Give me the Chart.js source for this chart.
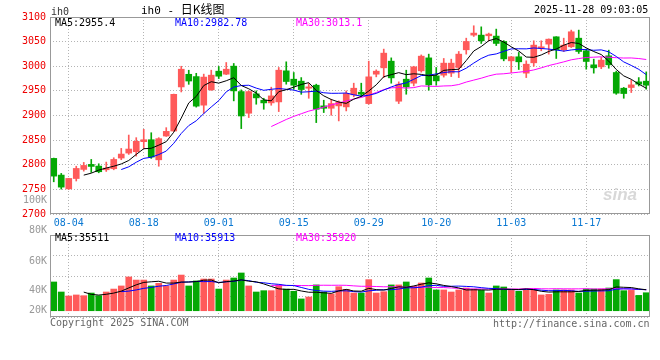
<!DOCTYPE html>
<html>
<head>
<meta charset="utf-8">
<script src="https://cdn.jsdelivr.net/npm/chart.js@4/dist/chart.umd.min.js"></script>
<style>
body { margin: 0; background: #fff; }
#wrap { position: relative; width: 660px; height: 360px; overflow: hidden; font-family: "DejaVu Sans Mono", monospace; font-size: 10px; }
#wrap canvas { position: absolute; left: 0; }
.t { position: absolute; line-height: 12px; white-space: nowrap; }
.r { text-align: right; width: 40px; }
</style>
</head>
<body>
<div id="wrap">
  <canvas id="kChart" width="660" height="232" style="top:0"></canvas>
  <canvas id="vChart" width="660" height="90" style="top:228px"></canvas>

  <div class="t" style="left:51px;top:6px;color:#333">ih0</div>
  <div class="t" style="left:141px;top:3px;color:#000;font-size:11px;">ih0 - <span style="font-family:'Noto Sans CJK SC';font-size:12px;">日K线图</span></div>
  <div class="t" style="left:534px;top:4px;color:#000">2025-11-28 09:03:05</div>

  <div class="t" style="left:55px;top:17px;color:#000">MA5:2955.4</div>
  <div class="t" style="left:175px;top:17px;color:#0000ff">MA10:2982.78</div>
  <div class="t" style="left:296px;top:17px;color:#ff00ff">MA30:3013.1</div>

  <div class="t" style="left:55px;top:232px;color:#000">MA5:35511</div>
  <div class="t" style="left:175px;top:232px;color:#0000ff">MA10:35913</div>
  <div class="t" style="left:296px;top:232px;color:#ff00ff">MA30:35920</div>

  <div class="t r" style="left:7px;top:194px;color:#999">100K</div>
  <div class="t r" style="left:7px;top:224px;color:#999">80K</div>
  <div class="t r" style="left:7px;top:255px;color:#999">60K</div>
  <div class="t r" style="left:7px;top:284px;color:#999">40K</div>
  <div class="t r" style="left:7px;top:304px;color:#999">20K</div>

  <div class="t" style="left:603px;top:186px;color:#d8d8d8;font-family:'Liberation Sans';font-style:italic;font-weight:bold;font-size:17px;line-height:18px;">sina</div>

  <div class="t" style="left:50px;top:317px;color:#666">Copyright 2025 SINA.COM</div>
  <div class="t" style="left:493px;top:318px;color:#666">http://finance.sina.com.cn</div>
</div>

<script>
Chart.defaults.font.family = "'DejaVu Sans Mono', monospace";
Chart.defaults.font.size = 10;

// trading days shown on the chart
let dates = [
  '07-31', '08-01',
  '08-04', '08-05', '08-06', '08-07', '08-08',
  '08-11', '08-12', '08-13', '08-14', '08-15',
  '08-18', '08-19', '08-20', '08-21', '08-22',
  '08-25', '08-26', '08-27', '08-28', '08-29',
  '09-01', '09-02', '09-03', '09-04', '09-05',
  '09-08', '09-09', '09-10', '09-11', '09-12',
  '09-15', '09-16', '09-17', '09-18', '09-19',
  '09-22', '09-23', '09-24', '09-25', '09-26',
  '09-29', '09-30', '10-09', '10-10',
  '10-13', '10-14', '10-15', '10-16', '10-17',
  '10-20', '10-21', '10-22', '10-23', '10-24',
  '10-27', '10-28', '10-29', '10-30', '10-31',
  '11-03', '11-04', '11-05', '11-06', '11-07',
  '11-10', '11-11', '11-12', '11-13', '11-14',
  '11-17', '11-18', '11-19', '11-20', '11-21',
  '11-24', '11-25', '11-26', '11-27'
];
let tickDates = ['08-04', '08-18', '09-01', '09-15', '09-29', '10-20', '11-03', '11-17'];

let opens = [
  2812.9, 2779.0, 2751.0, 2772.0, 2790.5, 2800.7, 2797.3, 2789.8, 2791.9, 2813.6,
  2823.7, 2826.4, 2846.8, 2850.8, 2810.0, 2858.3, 2868.5, 2958.0, 2983.7, 2979.0,
  2921.0, 2952.0, 2990.0, 2983.9, 3000.2, 2948.6, 2904.6, 2944.0, 2931.0, 2925.6,
  2927.6, 2990.7, 2973.7, 2969.7, 2955.4, 2961.5, 2919.5, 2914.7, 2919.5, 2917.5,
  2941.9, 2947.3, 2924.2, 2983.9, 2996.8, 3010.3, 2929.0, 2973.7, 2965.6, 2990.7,
  3017.0, 2980.5, 2981.9, 2986.0, 2997.5, 3033.4, 3063.2, 3063.2, 3061.9, 3061.2,
  3050.3, 3011.0, 3019.2, 2986.0, 3007.0, 3036.8, 3044.9, 3059.8, 3033.4, 3039.5,
  3057.0, 3031.4, 3002.9, 2998.8, 3021.2, 2987.3, 2955.4, 2956.8, 2968.3, 2969.7
];
let highs = [
  2813.5, 2782.4, 2772.5, 2797.0, 2804.7, 2810.8, 2802.0, 2805.4, 2814.2, 2833.2,
  2860.3, 2855.0, 2871.9, 2865.0, 2855.0, 2875.3, 2943.5, 3000.0, 2991.9, 2985.7,
  2984.0, 2992.0, 2999.5, 3007.6, 3005.6, 2952.0, 2950.0, 2950.0, 2935.0, 2957.5,
  2997.5, 3009.0, 2987.3, 2977.0, 2965.0, 2963.6, 2931.0, 2933.0, 2929.7, 2950.0,
  2965.6, 2965.6, 3010.3, 2992.7, 3034.8, 3017.0, 2968.3, 2992.0, 3000.0, 3023.0,
  3024.6, 2997.5, 3015.8, 3014.4, 3030.0, 3057.0, 3082.2, 3080.0, 3067.3, 3075.4,
  3052.0, 3020.0, 3028.0, 3011.0, 3051.7, 3051.7, 3055.5, 3060.0, 3057.0, 3073.4,
  3073.4, 3034.8, 3014.4, 3017.8, 3032.7, 2990.0, 2957.0, 2971.7, 2977.0, 2988.6
];
let lows = [
  2765.4, 2750.5, 2750.0, 2767.0, 2787.0, 2784.4, 2783.7, 2786.4, 2789.8, 2810.2,
  2821.0, 2817.6, 2833.2, 2812.9, 2797.0, 2857.5, 2868.0, 2947.8, 2963.3, 2917.0,
  2904.4, 2951.0, 2975.0, 2983.0, 2929.7, 2873.4, 2895.8, 2922.9, 2912.7, 2920.8,
  2908.0, 2963.6, 2953.4, 2943.0, 2935.0, 2885.6, 2906.0, 2900.5, 2889.0, 2909.3,
  2938.0, 2938.0, 2922.9, 2978.5, 2977.0, 2965.6, 2924.2, 2943.2, 2960.0, 2988.0,
  2951.4, 2961.5, 2978.0, 2979.0, 2977.0, 3024.6, 3060.5, 3046.3, 3051.7, 3042.0,
  3011.0, 2987.3, 2993.4, 2977.0, 3000.0, 3031.4, 3024.6, 3015.8, 3030.0, 3038.0,
  3026.0, 2994.0, 2986.0, 2995.0, 2996.0, 2943.0, 2935.0, 2946.6, 2960.0, 2953.4
];
let closes = [
  2776.9, 2754.6, 2772.2, 2792.5, 2798.6, 2796.6, 2785.8, 2793.2, 2810.8, 2821.7,
  2831.9, 2847.5, 2850.8, 2815.6, 2853.0, 2867.8, 2943.0, 2994.0, 2970.0, 2919.0,
  2978.0, 2981.9, 2979.8, 2994.0, 2950.0, 2899.0, 2948.6, 2935.8, 2925.6, 2939.8,
  2992.0, 2969.0, 2961.5, 2952.7, 2958.1, 2912.7, 2914.7, 2924.2, 2927.0, 2944.6,
  2955.4, 2943.2, 2978.5, 2990.0, 3026.6, 2976.4, 2963.6, 2958.1, 2998.8, 3020.5,
  2962.2, 2970.3, 3006.3, 3006.3, 3024.6, 3050.3, 3067.3, 3051.7, 3065.3, 3046.3,
  3015.0, 3019.2, 3009.0, 3004.2, 3042.9, 3039.5, 3055.0, 3033.4, 3042.9, 3070.0,
  3030.0, 3009.7, 2996.8, 3012.4, 3002.9, 2945.3, 2944.6, 2962.2, 2963.6, 2961.5
];
let volumes = [
  40900, 34100, 31400, 32100, 31600, 33400, 31600, 34100, 36100, 38200,
  44300, 42200, 42200, 38200, 40000, 38200, 42200, 45600, 38200, 41600,
  42900, 42900, 36100, 42200, 43600, 47000, 38200, 34100, 35000, 35000,
  38900, 36100, 34600, 29400, 30700, 38900, 34100, 32800, 37700, 35900,
  33400, 33400, 42500, 33400, 34300, 38900, 38900, 40900, 38000, 40200,
  43600, 35500, 35500, 34100, 35500, 36800, 36100, 35200, 33400, 38200,
  37500, 35200, 34600, 35500, 35500, 32100, 32500, 35500, 35500, 35500,
  33400, 36100, 36100, 36100, 36800, 42500, 35000, 35200, 31800, 33600
];

const RED = '#ff5a5a';
const GREEN = '#04a804';
const GRID = '#b4b4b4';

let candleColors = closes.map((c, i) => c >= opens[i] ? RED : GREEN);

function movingAvg(arr, n) {
  return arr.map((v, i) => {
    if (i < n - 1) return null;
    let s = 0;
    for (let j = i - n + 1; j <= i; j++) s += arr[j];
    return s / n;
  });
}

function dateGrid(ctx) {
  return tickDates.includes(dates[ctx.index]) ? GRID : 'rgba(0,0,0,0)';
}

// grey frame around the plot area
const frame = {
  id: 'frame',
  afterDraw(chart) {
    const a = chart.chartArea;
    const c = chart.ctx;
    c.save();
    c.strokeStyle = '#999';
    c.lineWidth = 1;
    c.strokeRect(Math.round(a.left) + 0.5, Math.round(a.top) + 0.5,
      Math.round(a.right - a.left) - 1, Math.round(a.bottom - a.top) - 1);
    c.restore();
  }
};

function maLine(data, color) {
  return {
    type: 'line',
    data: data,
    borderColor: color,
    borderWidth: 1,
    pointRadius: 0,
    tension: 0,
    order: 1
  };
}

let kCtx = document.getElementById('kChart').getContext('2d');
let kChart = new Chart(kCtx, {
  type: 'bar',
  data: {
    labels: dates,
    datasets: [
      {
        data: lows.map((l, i) => [l, highs[i]]),
        backgroundColor: candleColors,
        barThickness: 1,
        grouped: false,
        order: 3
      },
      {
        data: opens.map((o, i) => [o, closes[i]]),
        backgroundColor: candleColors,
        barThickness: 6,
        grouped: false,
        order: 2
      },
      maLine(movingAvg(closes, 5), '#000000'),
      maLine(movingAvg(closes, 10), '#0000ff'),
      maLine(movingAvg(closes, 30), '#ff00ff')
    ]
  },
  options: {
    responsive: false,
    animation: false,
    devicePixelRatio: 1,
    layout: { padding: { top: 17, right: 10, left: 0, bottom: 0 } },
    plugins: { legend: { display: false }, tooltip: { enabled: false } },
    scales: {
      x: {
        type: 'category',
        offset: true,
        afterFit: s => { s.height = 18; },
        grid: { offset: false, drawTicks: false, color: dateGrid },
        border: { display: false, dash: [1, 2] },
        ticks: {
          autoSkip: false,
          maxRotation: 0,
          padding: 3,
          color: '#0a78d2',
          callback: (v, i) => tickDates.includes(dates[i]) ? dates[i] : ''
        }
      },
      y: {
        min: 2700,
        max: 3100,
        afterFit: s => { s.width = 50; },
        grid: { drawTicks: false, color: GRID },
        border: { display: false, dash: [1, 2] },
        ticks: { stepSize: 50, color: '#ee0000', padding: 4, callback: v => String(v) }
      }
    }
  },
  plugins: [frame]
});

let vCtx = document.getElementById('vChart').getContext('2d');
let vChart = new Chart(vCtx, {
  type: 'bar',
  data: {
    labels: dates,
    datasets: [
      {
        data: volumes,
        base: 21400,
        backgroundColor: candleColors,
        barThickness: 6,
        order: 2
      },
      maLine(movingAvg(volumes, 5), '#000000'),
      maLine(movingAvg(volumes, 10), '#0000ff'),
      maLine(movingAvg(volumes, 30), '#ff00ff')
    ]
  },
  options: {
    responsive: false,
    animation: false,
    devicePixelRatio: 1,
    layout: { padding: { top: 7, right: 10, left: 0, bottom: 1 } },
    plugins: { legend: { display: false }, tooltip: { enabled: false } },
    scales: {
      x: {
        type: 'category',
        offset: true,
        afterFit: s => { s.height = 0; },
        grid: { offset: false, drawTicks: false, color: dateGrid },
        border: { display: false, dash: [1, 2] },
        ticks: { display: false, autoSkip: false }
      },
      y: {
        min: 17150,
        max: 72750,
        afterFit: s => { s.width = 50; },
        afterBuildTicks: s => {
          s.ticks = [0, 1, 2, 3, 4].map(k => ({ value: s.min + k * (s.max - s.min) / 4 }));
        },
        grid: { drawTicks: false, color: GRID },
        border: { display: false, dash: [1, 2] },
        ticks: { display: false }
      }
    }
  },
  plugins: [frame]
});
</script>
</body>
</html>
